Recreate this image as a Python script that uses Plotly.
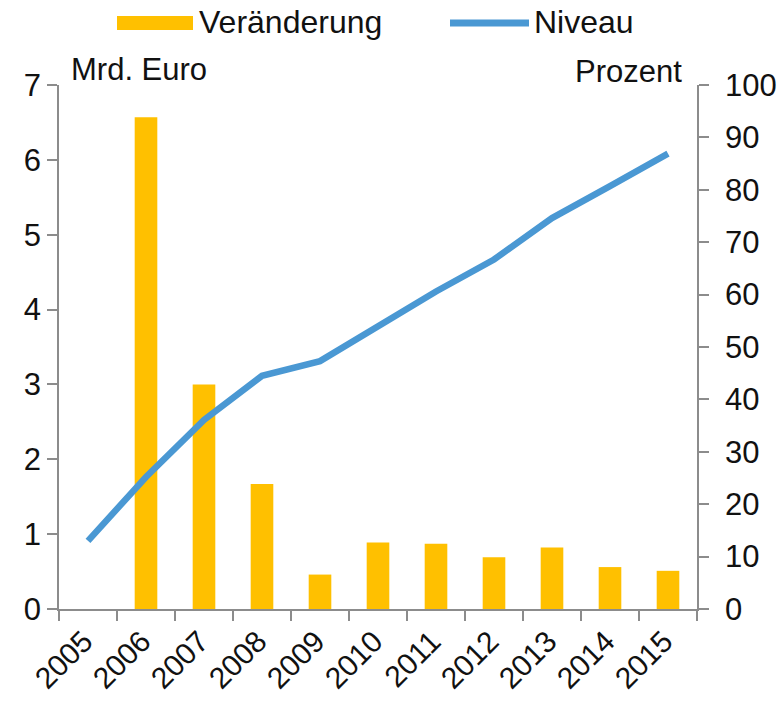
import plotly.graph_objects as go

years = ["2005", "2006", "2007", "2008", "2009", "2010", "2011", "2012", "2013", "2014", "2015"]
bar_years = ["2006", "2007", "2008", "2009", "2010", "2011", "2012", "2013", "2014", "2015"]
veraenderung = [6.57, 3.00, 1.67, 0.46, 0.89, 0.87, 0.69, 0.82, 0.56, 0.51]
niveau = [13.0, 25.2, 36.1, 44.5, 47.3, 53.9, 60.6, 66.7, 74.6, 80.7, 86.9]

BAR_COLOR = "#FFC000"
LINE_COLOR = "#4A98D3"
AXIS_COLOR = "#8C8C8C"
FONT = "Liberation Sans, Arial, sans-serif"

fig = go.Figure()
fig.add_trace(go.Bar(
    x=bar_years, y=veraenderung, name="Veränderung",
    marker=dict(color=BAR_COLOR, line=dict(width=0)),
    width=0.39, yaxis="y", showlegend=False,
))
fig.add_trace(go.Scatter(
    x=years, y=niveau, name="Niveau", mode="lines",
    line=dict(color=LINE_COLOR, width=6.5),
    yaxis="y2", showlegend=False,
))

axis_common = dict(
    showgrid=False, zeroline=False, showline=True, linecolor=AXIS_COLOR, linewidth=1.6,
    ticks="outside", ticklen=10, tickwidth=1.6, tickcolor=AXIS_COLOR, automargin=False,
    tickfont=dict(family=FONT, size=31, color="#111111"),
)

fig.update_layout(
    width=782, height=701,
    margin=dict(l=59, r=85, t=85, b=92),
    paper_bgcolor="white", plot_bgcolor="white",
    xaxis=dict(type="category", categoryorder="array", categoryarray=years,
               range=[-0.5, 10.5], tickangle=-45, tickson="boundaries",
               ticklabelstandoff=1, ticklabelshift=-4,
               **{**axis_common, "tickfont": dict(family=FONT, size=30, color="#111111")}),
    yaxis=dict(range=[0, 7], dtick=1, tick0=0, **axis_common),
    yaxis2=dict(range=[0, 100], dtick=10, tick0=0, overlaying="y", side="right",
                ticklabelstandoff=10, **axis_common),
    showlegend=False,
    font=dict(family=FONT, size=30, color="#111111"),
    bargap=0.6,
)

# axis unit labels
fig.add_annotation(text="Mrd. Euro", xref="paper", yref="paper", x=0.015, y=1.03,
                   xanchor="left", yanchor="middle", showarrow=False,
                   font=dict(family=FONT, size=31, color="#111111"))
fig.add_annotation(text="Prozent", xref="paper", yref="paper", x=0.98, y=1.026,
                   xanchor="right", yanchor="middle", showarrow=False,
                   font=dict(family=FONT, size=31, color="#111111"))

# custom legend (glyphs + labels)
fig.add_shape(type="rect", xref="paper", yref="paper",
              x0=(117 - 59) / 638, x1=(193 - 59) / 638,
              y0=(609 - 30) / 524, y1=(609 - 16) / 524,
              fillcolor=BAR_COLOR, line=dict(width=0))
fig.add_annotation(text="Veränderung", xref="paper", yref="paper", x=(197 - 59) / 638,
                   y=(609 - 22) / 524, xanchor="left", yanchor="middle", showarrow=False,
                   font=dict(family=FONT, size=32, color="#111111"))
fig.add_shape(type="line", xref="paper", yref="paper",
              x0=(450 - 59) / 638, x1=(529 - 59) / 638,
              y0=(609 - 23) / 524, y1=(609 - 23) / 524,
              line=dict(color=LINE_COLOR, width=7))
fig.add_annotation(text="Niveau", xref="paper", yref="paper", x=(532 - 59) / 638,
                   y=(609 - 22) / 524, xanchor="left", yanchor="middle", showarrow=False,
                   font=dict(family=FONT, size=32, color="#111111"))

# remove the browser's default 8px body margin so the figure sits at the page origin
fig.write_html(
    "out.html",
    config={"displayModeBar": False},
    post_script="document.body.style.margin='0';document.documentElement.style.overflow='hidden';",
)
